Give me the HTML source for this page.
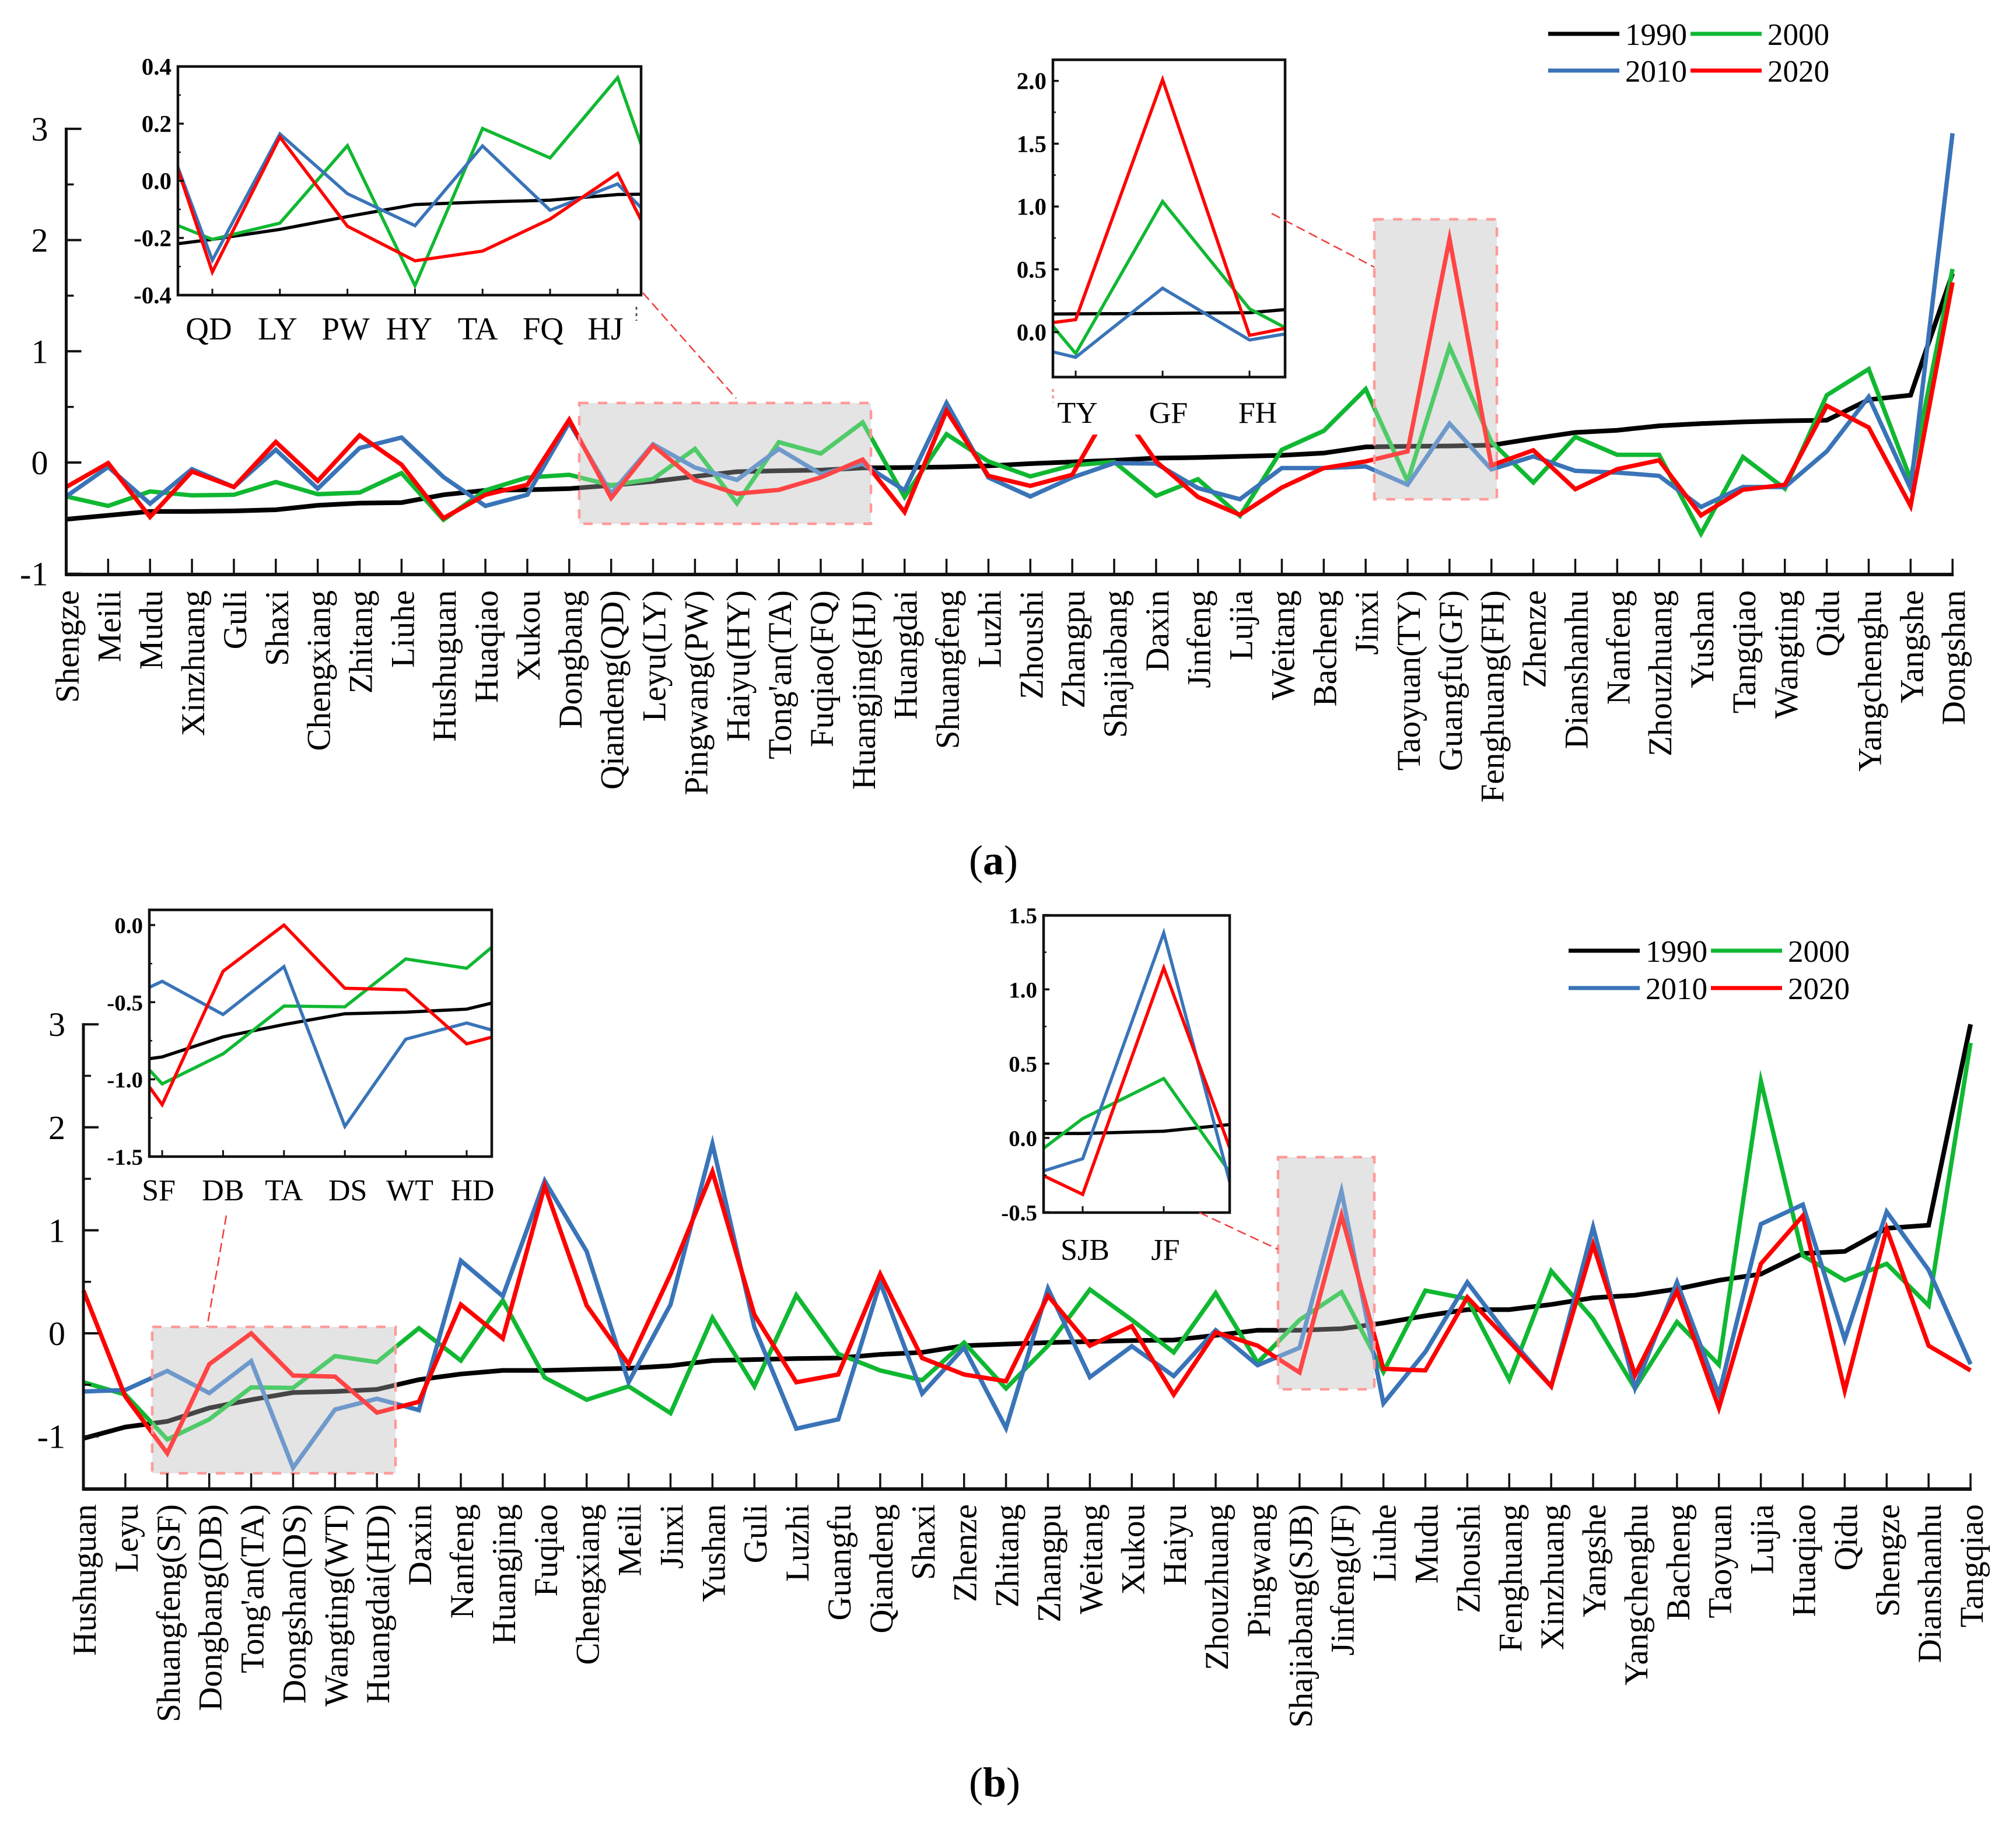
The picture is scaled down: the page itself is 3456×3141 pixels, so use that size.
<!DOCTYPE html>
<html lang="en">
<head>
<meta charset="utf-8">
<title>Two-panel line chart with insets</title>
<style>
html,body{margin:0;padding:0;background:#fff;}
svg{display:block;font-family:"Liberation Serif",serif;}
</style>
</head>
<body>
<svg id="chart" xmlns="http://www.w3.org/2000/svg" width="3456" height="3141" viewBox="0 0 3456 3141">
<rect x="0" y="0" width="3456" height="3141" fill="#fff"/>
<g id="panel-a"></g>
<g id="panel-b"></g>
<text x="1703" y="1499" font-size="72" text-anchor="middle">(<tspan font-weight="bold">a</tspan>)</text>
<text x="1705" y="3080" font-size="72" text-anchor="middle">(<tspan font-weight="bold">b</tspan>)</text>
</svg>
<script>
const categoriesA = ["Shengze","Meili","Mudu","Xinzhuang","Guli","Shaxi","Chengxiang","Zhitang","Liuhe","Hushuguan","Huaqiao","Xukou","Dongbang","Qiandeng(QD)","Leyu(LY)","Pingwang(PW)","Haiyu(HY)","Tong'an(TA)","Fuqiao(FQ)","Huangjing(HJ)","Huangdai","Shuangfeng","Luzhi","Zhoushi","Zhangpu","Shajiabang","Daxin","Jinfeng","Lujia","Weitang","Bacheng","Jinxi","Taoyuan(TY)","Guangfu(GF)","Fenghuang(FH)","Zhenze","Dianshanhu","Nanfeng","Zhouzhuang","Yushan","Tangqiao","Wangting","Qidu","Yangchenghu","Yangshe","Dongshan"];
const a1990 = [-.51,-.475,-.44,-.44,-.435,-.425,-.385,-.365,-.36,-.29,-.25,-.245,-.235,-.205,-.17,-.125,-.083,-.074,-.068,-.048,-.045,-.04,-.03,-.01,.005,.02,.04,.045,.055,.065,.085,.14,.146,.149,.155,.215,.27,.29,.33,.35,.365,.375,.38,.565,.605,1.7];
const a2000 = [-.305,-.39,-.26,-.295,-.29,-.175,-.285,-.27,-.095,-.515,-.25,-.135,-.11,-.205,-.148,.123,-.367,.183,.08,.361,-.31,.255,.01,-.125,-.025,.005,-.3,-.15,-.48,.115,.285,.66,-.17,1.04,.186,-.18,.23,.07,.07,-.64,.05,-.235,.605,.84,-.15,1.74];
const a2010 = [-.305,-.04,-.37,-.06,-.22,.115,-.235,.13,.225,-.13,-.39,-.29,.36,-.278,.164,-.045,-.157,.122,-.103,-.011,-.25,.535,-.135,-.305,-.135,-.005,-.01,-.23,-.33,-.05,-.05,-.035,-.2,.35,-.062,.055,-.075,-.09,-.12,-.4,-.22,-.22,.1,.59,-.235,2.96];
const a2020 = [-.22,-.005,-.49,-.08,-.22,.185,-.165,.245,-.02,-.5,-.29,-.2,.385,-.319,.153,-.159,-.28,-.246,-.134,.026,-.445,.465,-.12,-.21,-.11,.55,.01,-.31,-.47,-.225,-.05,.01,.1,2.01,-.025,.11,-.24,-.06,.02,-.475,-.245,-.2,.51,.315,-.39,1.62];

const categoriesB = ["Hushuguan","Leyu","Shuangfeng(SF)","Dongbang(DB)","Tong'an(TA)","Dongshan(DS)","Wangting(WT)","Huangdai(HD)","Daxin","Nanfeng","Huangjing","Fuqiao","Chengxiang","Meili","Jinxi","Yushan","Guli","Luzhi","Guangfu","Qiandeng","Shaxi","Zhenze","Zhitang","Zhangpu","Weitang","Xukou","Haiyu","Zhouzhuang","Pingwang","Shajiabang(SJB)","Jinfeng(JF)","Liuhe","Mudu","Zhoushi","Fenghuang","Xinzhuang","Yangshe","Yangchenghu","Bacheng","Taoyuan","Lujia","Huaqiao","Qidu","Shengze","Dianshanhu","Tangqiao"];
const b1990 = [-1.02,-.91,-.855,-.725,-.645,-.575,-.565,-.545,-.45,-.395,-.36,-.36,-.35,-.34,-.315,-.265,-.255,-.245,-.24,-.205,-.185,-.12,-.105,-.09,-.08,-.07,-.065,-.02,.03,.03,.045,.1,.17,.23,.23,.28,.345,.37,.43,.515,.575,.775,.795,1.02,1.05,3.0];
const b2000 = [-.475,-.595,-1.03,-.835,-.525,-.53,-.22,-.28,.05,-.265,.32,-.43,-.645,-.515,-.775,.15,-.515,.37,-.2,-.36,-.455,-.09,-.535,-.12,.425,.13,-.185,.39,-.285,.13,.4,-.375,.415,.335,-.45,.605,.14,-.535,.11,-.305,2.45,.755,.515,.675,.27,2.82];
const b2010 = [-.565,-.55,-.365,-.58,-.27,-1.305,-.74,-.635,-.745,.705,.36,1.48,.795,-.475,.28,1.84,.06,-.925,-.835,.495,-.585,-.14,-.92,.435,-.425,-.125,-.415,.03,-.31,-.14,1.38,-.68,-.18,.495,-.04,-.515,1.03,-.53,.495,-.595,1.06,1.25,-.06,1.18,.615,-.3];
const b2020 = [.415,-.615,-1.165,-.3,0,-.41,-.42,-.77,-.665,.28,-.05,1.43,.27,-.3,.575,1.57,.18,-.475,-.4,.575,-.24,-.4,-.465,.365,-.12,.07,-.595,.01,-.12,-.38,1.145,-.345,-.36,.35,-.08,-.515,.86,-.405,.41,-.725,.675,1.14,-.555,1.015,-.12,-.36];

const seriesNames = ["1990","2000","2010","2020"];
const mainMajorTicks = [-1,0,1,2,3];
const mainMinorTicks = [-0.5,0.5,1.5,2.5];
const insetA1Ticks = ["-0.4","-0.2","0.0","0.2","0.4"];
const insetA2Ticks = ["0.0","0.5","1.0","1.5","2.0"];
const insetB1Ticks = ["-1.5","-1.0","-0.5","0.0"];
const insetB2Ticks = ["-0.5","0.0","0.5","1.0","1.5"];
const insetA1Labels = ["QD","LY","PW","HY","TA","FQ","HJ"];
const insetA2Labels = ["TY","GF","FH"];
const insetB1Labels = ["SF","DB","TA","DS","WT","HD"];
const insetB2Labels = ["SJB","JF"];

const NS = "http://www.w3.org/2000/svg";
const COLORS = {"1990":"#000000","2000":"#10b832","2010":"#3a74b8","2020":"#ff0000"};

function mk(parent, tag, attrs, txt){
  const el = document.createElementNS(NS, tag);
  for (const k in attrs) el.setAttribute(k, attrs[k]);
  if (txt !== undefined) el.textContent = txt;
  parent.appendChild(el);
  return el;
}
function linearX(x0, dx){ return i => x0 + dx * i; }
function linearY(y0, unit){ return v => y0 - unit * v; }

function drawSeries(g, values, yearName, sx, sy, width, prefix){
  let d = "";
  values.forEach((v, i) => { d += (i ? "L" : "M") + sx(i).toFixed(1) + " " + sy(v).toFixed(1); });
  const p = mk(g, "path", {d:d, fill:"none", stroke:COLORS[yearName], "stroke-width":width, "stroke-linejoin":"miter", "stroke-miterlimit":8});
  
  
}

function drawUnderlay(g, x, y, w, h, name){
  const r = mk(g, "rect", {x:x, y:y, width:w, height:h, fill:"#dbdbdb"});
  
  
}
function drawOverlay(g, x, y, w, h, name){
  const r = mk(g, "rect", {x:x, y:y, width:w, height:h, fill:"#ffffff", "fill-opacity":0.27, stroke:"#ff9a9a", "stroke-width":4.5, "stroke-dasharray":"16 16"});
  
  
}
function drawConnector(g, x1, y1, x2, y2, name){
  const l = mk(g, "line", {x1:x1, y1:y1, x2:x2, y2:y2, stroke:"#f23b3b", "stroke-width":2.5, "stroke-dasharray":"16 8"});
  
  
}

function drawMainAxes(g, categories, sx, sy, axisY, tickTop, labelTop){
  const n = categories.length;
  const left = sx(0), right = sx(n - 1);
  const ya = mk(g, "line", {x1:left, y1:sy(3)-2, x2:left, y2:axisY+2, stroke:"#111", "stroke-width":5});
  
  
  const xa = mk(g, "line", {x1:left-2, y1:axisY, x2:right+2, y2:axisY, stroke:"#111", "stroke-width":6});
  
  
  mainMajorTicks.forEach(v => {
    const y = Math.min(sy(v), axisY);
    const t = mk(g, "line", {x1:left, y1:y, x2:left+26, y2:y, stroke:"#111", "stroke-width":4});
    
    
    const lb = mk(g, "text", {x:left-31, y:sy(v)+20, "font-size":58, "text-anchor":"end"}, String(v));
    
    
  });
  mainMinorTicks.forEach(v => {
    const t = mk(g, "line", {x1:left, y1:sy(v), x2:left+13, y2:sy(v), stroke:"#111", "stroke-width":3.5});
    
    
  });
  categories.forEach((c, i) => {
    const x = sx(i);
    if (i > 0) {
      const t = mk(g, "line", {x1:x, y1:tickTop, x2:x, y2:axisY, stroke:"#111", "stroke-width":3.5});
      
      
    }
    const lb = mk(g, "text", {transform:"translate(" + (x + 21).toFixed(1) + " " + labelTop + ") rotate(-90)", "font-size":57, "text-anchor":"end"}, c);
    
    
  });
}

function drawInset(g, cfg){
  const bg = mk(g, "rect", {x:cfg.bg[0], y:cfg.bg[1], width:cfg.bg[2], height:cfg.bg[3], fill:"#fff"});
  
  
  const sx = linearX(cfg.x0 - cfg.dx * cfg.first, cfg.dx);
  const sy = linearY(cfg.y0, cfg.unit);
  const clip = mk(g, "clipPath", {id:cfg.name + "-clip"});
  mk(clip, "rect", {x:cfg.left, y:cfg.top, width:cfg.right-cfg.left, height:cfg.bottom-cfg.top});
  const lines = mk(g, "g", {"clip-path":"url(#" + cfg.name + "-clip)"});
  
  
  cfg.series.forEach((vals, k) => drawSeries(lines, vals, seriesNames[k], sx, sy, k === 0 ? 5.5 : 5.5, cfg.name));
  const fr = mk(g, "rect", {x:cfg.left, y:cfg.top, width:cfg.right-cfg.left, height:cfg.bottom-cfg.top, fill:"none", stroke:"#111", "stroke-width":4.5});
  
  
  cfg.yTicks.forEach((s, k) => {
    const v = parseFloat(s), y = sy(v);
    const t = mk(g, "line", {x1:cfg.left, y1:y, x2:cfg.left+10, y2:y, stroke:"#111", "stroke-width":3.5});
    
    
    if (k < cfg.yTicks.length - 1) {
      const next = parseFloat(cfg.yTicks[k + 1]);
      const mt = mk(g, "line", {x1:cfg.left, y1:sy((v + next) / 2), x2:cfg.left+5, y2:sy((v + next) / 2), stroke:"#111", "stroke-width":2.5});
      
      
    }
    const lb = mk(g, "text", {x:cfg.left-11, y:y+14, "font-size":cfg.yFont, "font-weight":"bold", "text-anchor":"end"}, s);
    
    
  });
  cfg.labels.forEach((s, k) => {
    const x = sx(cfg.first + k);
    const t = mk(g, "line", {x1:x, y1:cfg.bottom-11, x2:x, y2:cfg.bottom, stroke:"#111", "stroke-width":3});
    
    
    const lb = mk(g, "text", {x:x + cfg.labelShift[k], y:cfg.labelY, "font-size":cfg.xFont, "text-anchor":"middle"}, s);
    
    
  });
}

function drawLegend(g, x, y1, y2, name){
  const slots = [[x, y1], [x + 244, y1], [x, y2], [x + 244, y2]];
  seriesNames.forEach((s, k) => {
    const e = mk(g, "g", {});
    
    
    const p = slots[k];
    mk(e, "line", {x1:p[0], y1:p[1], x2:p[0]+122, y2:p[1], stroke:COLORS[s], "stroke-width":7});
    mk(e, "text", {x:p[0]+132, y:p[1]+19, "font-size":53}, s);
  });
}

/* ---------- panel a ---------- */
(function(){
  const g = document.getElementById("panel-a");
  const sx = linearX(113.5, 71.86);
  const sy = linearY(793, 190.7);
  const all = [a1990, a2000, a2010, a2020];
  drawUnderlay(g, 993, 691, 500, 207, 'highlight-qd-hj');
  drawUnderlay(g, 2356, 376, 210, 480, 'highlight-ty-fh');
  all.forEach((vals, k) => drawSeries(g, vals, seriesNames[k], sx, sy, k === 0 ? 8 : 7.5, 'main'));
  drawOverlay(g, 993, 691, 500, 207, 'highlight-qd-hj');
  drawOverlay(g, 2356, 376, 210, 480, 'highlight-ty-fh');
  drawMainAxes(g, categoriesA, sx, sy, 985, 958, 1012);
  drawInset(g, {name:'inset-a1', bg:[225,95,885,510], left:305, right:1099, top:114, bottom:506,
    x0:364, dx:115.8, first:13, y0:310, unit:490, series:all, yTicks:insetA1Ticks, labels:insetA1Labels,
    labelShift:[-6,-4,-3,-10,-8,-12,-21], labelY:582, yFont:41, xFont:55});
  drawInset(g, {name:'inset-a2', bg:[1745,90,470,655], left:1805, right:2203, top:102.5, bottom:646.5,
    x0:1844, dx:149, first:32, y0:569.5, unit:215.4, series:all, yTicks:insetA2Ticks, labels:insetA2Labels,
    labelShift:[3,10,14], labelY:725, yFont:41, xFont:52});
  drawConnector(g, 1102, 502, 1262, 683, 'connector-qd-hj');
  drawConnector(g, 2180, 366, 2356, 458, 'connector-ty-fh');
  const c1 = mk(g, "line", {x1:1091, y1:526, x2:1091, y2:550, stroke:"#555", "stroke-width":3, "stroke-dasharray":"5 6"});
  
  
  const c2 = mk(g, "line", {x1:1805, y1:667, x2:1805, y2:690, stroke:"#f08a8a", "stroke-width":3, "stroke-dasharray":"5 6"});
  
  
  drawLegend(g, 2654, 58, 121, 'legend-a');
})();

/* ---------- panel b ---------- */
(function(){
  const g = document.getElementById("panel-b");
  const sx = linearX(143, 71.89);
  const sy = linearY(2286, 176.6);
  const all = [b1990, b2000, b2010, b2020];
  drawUnderlay(g, 261, 2275, 417, 251, 'highlight-sf-hd');
  drawUnderlay(g, 2191, 1984, 165, 398, 'highlight-sjb-jf');
  all.forEach((vals, k) => drawSeries(g, vals, seriesNames[k], sx, sy, k === 0 ? 8 : 7.5, 'main'));
  drawOverlay(g, 261, 2275, 417, 251, 'highlight-sf-hd');
  drawOverlay(g, 2191, 1984, 165, 398, 'highlight-sjb-jf');
  drawMainAxes(g, categoriesB, sx, sy, 2553, 2526, 2579);
  drawInset(g, {name:'inset-b1', bg:[180,1550,680,510], left:256, right:843, top:1560, bottom:1983,
    x0:278, dx:104.4, first:2, y0:1586, unit:264.5, series:all, yTicks:insetB1Ticks, labels:insetB1Labels,
    labelShift:[-6,0,0,5,7,10], labelY:2058, yFont:39, xFont:52});
  drawInset(g, {name:'inset-b2', bg:[1720,1555,400,610], left:1789, right:2108, top:1569.5, bottom:2079,
    x0:1856, dx:139, first:29, y0:1951, unit:254.7, series:all, yTicks:insetB2Ticks, labels:insetB2Labels,
    labelShift:[4,3], labelY:2160, yFont:39, xFont:52});
  drawConnector(g, 388, 2084, 355, 2275, 'connector-sf-hd');
  drawConnector(g, 2056, 2079, 2191, 2142, 'connector-sjb-jf');
  drawLegend(g, 2689, 1630, 1694, 'legend-b');
})();
</script>
</body>
</html>
